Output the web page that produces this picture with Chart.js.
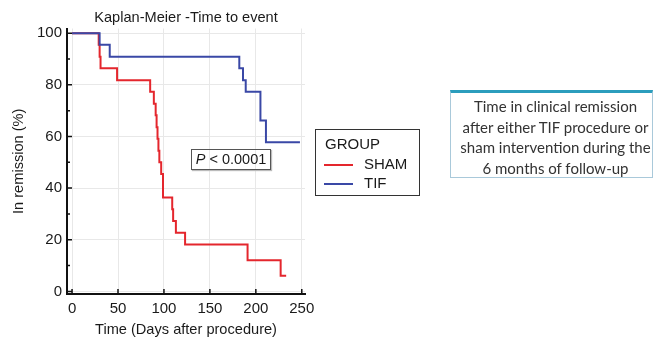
<!DOCTYPE html>
<html>
<head>
<meta charset="utf-8">
<script src="https://cdn.jsdelivr.net/npm/chart.js@4.4.0/dist/chart.umd.min.js"></script>
<style>
  body { margin: 0; background: #fff; }
  #wrap { position: relative; width: 658px; height: 339px; }
  #km { position: absolute; left: 0; top: 0; }
  .pbox {
    position: absolute; left: 191px; top: 149px; width: 78px; height: 19px;
    border: 1px solid #555; box-shadow: 1px 1px 1px #bbb;
    font: 14.5px "Liberation Sans", Arial, sans-serif; color: #1a1a1a;
    text-align: center; line-height: 19px;
  }
  .legend {
    position: absolute; left: 315px; top: 129px; width: 105px; height: 67px;
    border: 1px solid #333; box-sizing: border-box;
    font: 15px "Liberation Sans", Arial, sans-serif; color: #1a1a1a;
  }
  .legend .head { position: absolute; left: 9px; top: 5px; }
  .legend .item { position: absolute; left: 8px; height: 18px; }
  .legend .item span.sw { position: absolute; left: 0; top: 9px; width: 29px; height: 2px; }
  .legend .item span.tx { position: absolute; left: 40px; top: 0; }
  .info {
    position: absolute; left: 450px; top: 90px; width: 203px; height: 88px;
    box-sizing: border-box; border: 1px solid #a9c9da; border-top: 3px solid #2b9dbd;
    font: 15px Lato, "Open Sans", sans-serif; color: #333; text-align: center;
    line-height: 20.5px; padding-top: 3px; padding-left: 8px; white-space: nowrap;
  }
</style>
</head>
<body>
<div id="wrap">
  <canvas id="km" width="658" height="339"></canvas>
  <div class="pbox"><i>P</i> &lt; 0.0001</div>
  <div class="legend" id="legend"><div class="head">GROUP</div></div>
  <div class="info">Time in clinical remission<br>after either TIF procedure or<br>sham intervention during the<br>6 months of follow-up</div>
</div>
<script>
// Kaplan-Meier steps
const shamDays = [0, 29, 30, 31, 49, 85, 89, 91, 92, 93, 94, 95, 97, 99, 109, 110, 113, 123, 191, 227, 233];
const shamRemission = [100, 95.5, 90.9, 86.4, 81.8, 77.3, 72.7, 68.2, 63.6, 59.1, 54.5, 50, 45.5, 36.4, 31.8, 27.3, 22.7, 18.2, 12.1, 6.1, 6.1];
const tifDays = [0, 30, 41, 182, 186, 189, 205, 211, 248];
const tifRemission = [100, 95.5, 90.9, 86.4, 81.8, 77.3, 66.2, 57.8, 57.8];

const xTicks = [0, 50, 100, 150, 200, 250];
const yTicks = [0, 20, 40, 60, 80, 100];

const groups = ['SHAM', 'TIF'];
const groupColors = ['#e4262d', '#3a48a6'];

const tickFont = { family: '"Liberation Sans", Arial, sans-serif', size: 15 };
const titleFont = { family: '"Liberation Sans", Arial, sans-serif', size: 14.6 };

function toPoints(xs, ys) {
    return xs.map((x, i) => ({ x: x, y: ys[i] }));
}

// inward tick marks like the original figure
const innerTicks = {
    id: 'innerTicks',
    afterDraw(chart) {
        const ctx = chart.ctx;
        const xs = chart.scales.x;
        const ys = chart.scales.y;
        const area = chart.chartArea;
        ctx.save();
        ctx.strokeStyle = '#111';
        ctx.lineWidth = 1.5;
        ctx.beginPath();
        yTicks.forEach((v, i) => {
            const y = ys.getPixelForValue(v);
            ctx.moveTo(area.left, y);
            ctx.lineTo(area.left + 5, y);
            if (i < yTicks.length - 1) {
                const ym = ys.getPixelForValue((v + yTicks[i + 1]) / 2);
                ctx.moveTo(area.left, ym);
                ctx.lineTo(area.left + 3, ym);
            }
        });
        xTicks.forEach(v => {
            const x = xs.getPixelForValue(v);
            ctx.moveTo(x, area.bottom);
            ctx.lineTo(x, area.bottom - 5);
        });
        ctx.stroke();
        ctx.restore();
    }
};

const chart = new Chart(document.getElementById('km'), {
    type: 'line',
    data: {
        datasets: [
            {
                label: groups[0],
                data: toPoints(shamDays, shamRemission),
                borderColor: groupColors[0],
                backgroundColor: groupColors[0],
                borderWidth: 2,
                stepped: 'before',
                pointRadius: 0,
                order: 1
            },
            {
                label: groups[1],
                data: toPoints(tifDays, tifRemission),
                borderColor: groupColors[1],
                backgroundColor: groupColors[1],
                borderWidth: 2,
                stepped: 'before',
                pointRadius: 0,
                order: 0
            }
        ]
    },
    options: {
        responsive: false,
        animation: false,
        layout: { padding: { left: 0, right: 353, top: 0, bottom: 0 } },
        plugins: {
            legend: { display: false },
            tooltip: { enabled: false },
            title: {
                display: true,
                text: 'Kaplan-Meier -Time to event',
                fullSize: false,
                color: '#1a1a1a',
                font: { family: titleFont.family, size: titleFont.size, weight: 'normal' },
                padding: { top: 9, bottom: 2 }
            }
        },
        scales: {
            x: {
                type: 'linear',
                min: -5.5,
                max: 253.5,
                afterBuildTicks: s => { s.ticks = xTicks.map(v => ({ value: v })); },
                afterFit: s => { s.height = 45; },
                border: { color: '#111', width: 2 },
                grid: { color: '#e8e8e8', drawTicks: false },
                ticks: { color: '#1a1a1a', font: tickFont, padding: 6, maxRotation: 0 },
                title: {
                    display: true,
                    text: 'Time (Days after procedure)',
                    color: '#1a1a1a',
                    font: titleFont,
                    padding: { top: 0, bottom: 0 }
                }
            },
            y: {
                min: -1,
                max: 101.8,
                afterBuildTicks: s => { s.ticks = yTicks.map(v => ({ value: v })); },
                afterFit: s => { s.width = 67; },
                border: { color: '#111', width: 2 },
                grid: { color: '#e8e8e8', drawTicks: false },
                ticks: { color: '#1a1a1a', font: tickFont, padding: 5 },
                title: {
                    display: true,
                    text: 'In remission (%)',
                    color: '#1a1a1a',
                    font: titleFont,
                    padding: { top: 10, bottom: 0 }
                }
            }
        }
    },
    plugins: [innerTicks]
});

// legend box built from the datasets
const legendEl = document.getElementById('legend');
chart.data.datasets.forEach((ds, i) => {
    const item = document.createElement('div');
    item.className = 'item';
    item.style.top = (25 + i * 19) + 'px';
    item.innerHTML = '<span class="sw" style="background:' + ds.borderColor + '"></span><span class="tx">' + ds.label + '</span>';
    legendEl.appendChild(item);
});
</script>
</body>
</html>
